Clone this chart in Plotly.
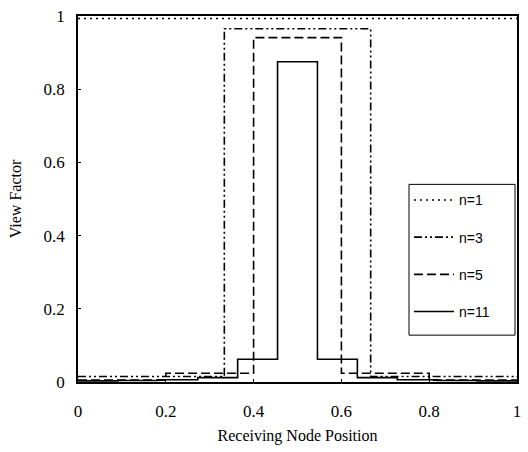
import plotly.graph_objects as go

# Node values (piecewise constant across equal-width receiving nodes)
n1_values = [0.993]
n3_values = [0.015, 0.965, 0.015]
n5_values = [0.005, 0.024, 0.941, 0.024, 0.005]
n11_values = [0.003, 0.004, 0.006, 0.012, 0.062, 0.875, 0.062, 0.012, 0.006, 0.004, 0.003]

series_names = ["n=1", "n=3", "n=5", "n=11"]
series_values = [n1_values, n3_values, n5_values, n11_values]
series_dash = ["2px,4px", "8px,3px,2px,3px,2px,3px", "9px,4px", "solid"]

x_ticks = [0, 0.2, 0.4, 0.6, 0.8, 1]
x_tick_labels = ["0", "0.2", "0.4", "0.6", "0.8", "1"]
y_ticks = [0, 0.2, 0.4, 0.6, 0.8, 1]
y_tick_labels = ["0", "0.2", "0.4", "0.6", "0.8", "1"]

fig = go.Figure()
for name, vals, dash in zip(series_names, series_values, series_dash):
    n = len(vals)
    xs = [i / n for i in range(n + 1)]
    ys = list(vals) + [vals[-1]]
    fig.add_trace(go.Scatter(
        x=xs, y=ys, mode="lines", name=name, line_shape="hv",
        legendgroup=name,
        line=dict(color="black", width=1.6, dash=dash),
    ))

axis_common = dict(
    showline=True, linecolor="black", linewidth=1.5, mirror=True,
    showgrid=False, zeroline=False, ticks="inside", ticklen=3,
    tickcolor="black",
    tickfont=dict(family="Liberation Serif", size=17, color="black"),
)

# legend frame (wider than plotly's auto legend box)
fig.add_shape(type="rect", xref="x domain", yref="y domain",
              x0=0.754, x1=0.9955, y0=0.128, y1=0.54,
              line=dict(color="black", width=1), fillcolor="white",
              layer="above")

fig.update_layout(
    width=528, height=452,
    margin=dict(l=78, r=7, t=15, b=70),
    plot_bgcolor="white", paper_bgcolor="white",
    showlegend=True,
    legend=dict(
        x=0.754, y=0.54, xanchor="left", yanchor="top",
        borderwidth=0, bgcolor="rgba(0,0,0,0)",
        font=dict(family="Liberation Sans", size=14, color="black"),
        tracegroupgap=16, itemwidth=40,
    ),
    xaxis=dict(range=[0, 1], tickvals=x_ticks, ticktext=x_tick_labels,
               ticklabelstandoff=13,
               title=dict(text="Receiving Node Position", standoff=10,
                          font=dict(family="Liberation Serif", size=16, color="black")),
               **axis_common),
    yaxis=dict(range=[0, 1], tickvals=y_ticks, ticktext=y_tick_labels,
               ticklabelstandoff=8,
               title=dict(text="View Factor", standoff=18,
                          font=dict(family="Liberation Serif", size=16, color="black")),
               **axis_common),
)

fig.write_html("out.html")
